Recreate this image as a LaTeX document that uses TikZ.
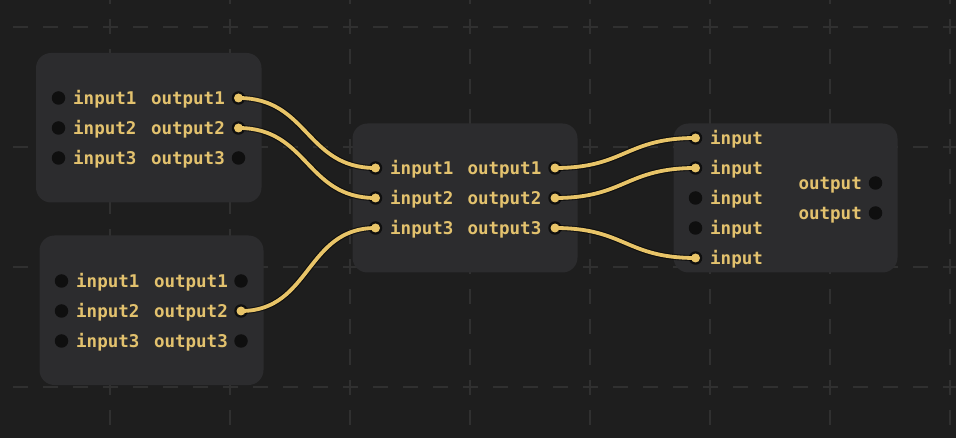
\documentclass[tikz,border=0pt]{standalone}
\usepackage{fontspec}
\newfontfamily\monofont{DejaVu Sans Mono}
\definecolor{bgc}{HTML}{1E1E1E}
\definecolor{gridc}{HTML}{303030}
\definecolor{nodec}{HTML}{2C2C2E}
\definecolor{txtc}{HTML}{E3C26E}
\definecolor{wirec}{HTML}{E8C468}
\definecolor{portc}{HTML}{0F0F0F}
\tikzset{
  gridline/.style={draw=gridc, line width=1.6pt, dash pattern=on 15pt off 15pt},
  nodebox/.style={fill=nodec, rounded corners=15pt},
  port/.style={circle, fill=portc, inner sep=0pt, minimum size=13.5pt},
  intxt/.style={anchor=base west, inner sep=0pt, text=txtc, font=\monofont\bfseries\fontsize{17.5}{20}\selectfont},
  outtxt/.style={anchor=base east, inner sep=0pt, text=txtc, font=\monofont\bfseries\fontsize{17.5}{20}\selectfont},
  wirehalo/.style={draw=black, opacity=0.55, line width=6pt},
  wire/.style={draw=wirec, line width=3.8pt},
  plug/.style={fill=wirec},
}
\newcommand{\wireconn}[2]{%
  \path[wirehalo] (#1.center) .. controls ($(#1.center)+(70,0)$) and ($(#2.center)-(70,0)$) .. (#2.center);
  \path[wire] (#1.center) .. controls ($(#1.center)+(70,0)$) and ($(#2.center)-(70,0)$) .. (#2.center);
  \fill[plug] (#1.center) circle (4.5pt);
  \fill[plug] (#2.center) circle (4.5pt);
}
\usetikzlibrary{calc}
\begin{document}
\begin{tikzpicture}[x=1pt,y=-1pt]
\fill[bgc] (0,0) rectangle (956,438);
\useasboundingbox (0,0) rectangle (956,438);
% grid
\foreach \gy in {27,147,267,387} {
  \draw[gridline] (-17.5,\gy) -- (975,\gy);
}
\foreach \gx in {110,230,350,470,590,710,830,950} {
  \draw[gridline] (\gx,-10.5) -- (\gx,450);
}
% node boxes
\fill[nodebox] (36,53) rectangle (261.5,202.5);
\fill[nodebox] (39.5,235.5) rectangle (263.5,385);
\fill[nodebox] (352.5,123.5) rectangle (577.5,272.5);
\fill[nodebox] (673.5,123.5) rectangle (897.5,272.5);
% node A
\foreach \r/\yy in {1/98,2/128,3/158} {
  \node[port] (Ain\r) at (58.5,\yy) {};
  \node[port] (Aout\r) at (238.5,\yy) {};
  \node[intxt] (Ait\r) at (73,\yy+6.5) {input\r};
  \node[outtxt] (Aot\r) at (225,\yy+6.5) {output\r};
}
% node B
\foreach \r/\yy in {1/281,2/311,3/341} {
  \node[port] (Bin\r) at (61.5,\yy) {};
  \node[port] (Bout\r) at (241,\yy) {};
  \node[intxt] (Bit\r) at (76,\yy+6.5) {input\r};
  \node[outtxt] (Bot\r) at (228,\yy+6.5) {output\r};
}
% node C
\foreach \r/\yy in {1/168,2/198,3/228} {
  \node[port] (Cin\r) at (375.5,\yy) {};
  \node[port] (Cout\r) at (555,\yy) {};
  \node[intxt] (Cit\r) at (390,\yy+6.5) {input\r};
  \node[outtxt] (Cot\r) at (541.5,\yy+6.5) {output\r};
}
% node D
\foreach \r/\yy in {1/138,2/168,3/198,4/228,5/258} {
  \node[port] (Din\r) at (695.5,\yy) {};
  \node[intxt] (Dit\r) at (710,\yy+6.5) {input};
}
\foreach \r/\yy in {1/183,2/213} {
  \node[port] (Dout\r) at (875.5,\yy) {};
  \node[outtxt] (Dot\r) at (862,\yy+6.5) {output};
}
% wires
\wireconn{Aout1}{Cin1}
\wireconn{Aout2}{Cin2}
\wireconn{Bout2}{Cin3}
\wireconn{Cout1}{Din1}
\wireconn{Cout2}{Din2}
\wireconn{Cout3}{Din5}
\end{tikzpicture}
\end{document}
